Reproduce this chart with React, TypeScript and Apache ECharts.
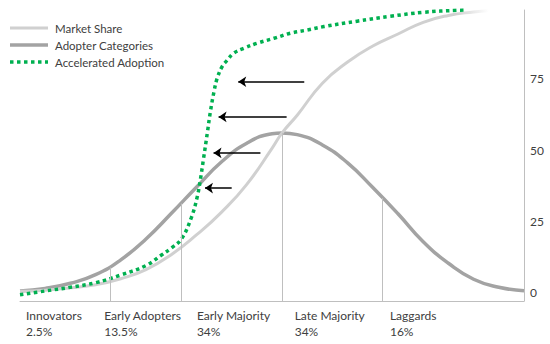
import React, { useEffect, useRef } from "react";
import * as echarts from "echarts";

// Adopter Categories (bell curve)
const bellX = [0, 5, 10, 15, 20, 25, 30, 35, 40, 45, 50, 52, 55, 60, 65, 70, 75, 80, 85, 90, 95, 100];
const bellY = [0.7, 1.6, 3.4, 6.4, 11.6, 18.9, 27.8, 37.0, 45.9, 52.4, 55.7, 56.0, 55.4, 51.8, 45.5, 36.9, 27.7, 17.9, 10.4, 4.8, 2.0, 0.8];

// Market Share (S-curve)
const marketX = [0, 5, 10, 15, 20, 25, 30, 35, 40, 45, 50, 52, 55, 60, 65, 70, 75, 80, 85, 90, 93];
const marketY = [0.6, 1.0, 1.8, 2.9, 5.0, 8.2, 13.4, 20.3, 28.3, 38.0, 50.6, 56.0, 62.2, 73.4, 80.8, 86.4, 90.6, 94.7, 97.1, 98.3, 98.7];

// Accelerated Adoption (dotted green)
const accelX = [0, 5, 10, 15, 20, 25, 28, 30, 32, 34, 35.2, 35.8, 36.4, 37.2, 37.8, 38.5, 39.1, 40.1, 41.1, 42.4, 44.4, 47.1, 50.4, 53.7, 57, 60.3, 66.9, 73.5, 80.1, 86.7, 88.7];
const accelY = [-0.6, 0.7, 2.0, 3.6, 6.3, 9.6, 13.2, 15.7, 18.8, 26.4, 33.9, 39.8, 46.8, 56.4, 63.7, 70.5, 75.0, 79.2, 81.4, 83.9, 85.6, 87.4, 89.1, 90.9, 92.0, 93.2, 95.1, 96.8, 98.2, 98.9, 99.0];

// Category boundaries (vertical lines up to the bell curve)
const dividerX = [17.9, 32.0, 52.0, 71.8];
const dividerTop = [8.9, 31.3, 56.0, 33.2];

// Arrows (pointing left)
const arrowFromX = [56.4, 52.9, 47.7, 42.0];
const arrowToX = [43.3, 39.4, 38.4, 36.7];
const arrowY = [73.9, 61.6, 49.0, 36.7];

// Category labels
const categoryNames = ["Innovators", "Early Adopters", "Early Majority", "Late Majority", "Laggards"];
const categoryShares = ["2.5%", "13.5%", "34%", "34%", "16%"];
const categoryLabelX = [1.2, 16.7, 35.1, 54.5, 73.4];

// Y axis ticks
const yTicks = [0, 25, 50, 75];

// Legend
const legendNames = ["Market Share", "Adopter Categories", "Accelerated Adoption"];

const Y_MIN = -2.8;
const Y_MAX = 99;
const FONT = "Lato, 'Open Sans', sans-serif";
const TEXT = "#404040";
const C_MARKET = "#d0d0d0";
const C_BELL = "#a3a3a3";
const C_GREEN = "#00b050";

const pairs = (xs: number[], ys: number[]) => xs.map((x, i) => [x, ys[i]]);

export default function App() {
  const ref = useRef<HTMLDivElement>(null);

  useEffect(() => {
    if (!ref.current) return;
    const chart = echarts.init(ref.current, null, { renderer: "svg" });

    const legendStyles = [
      { stroke: C_MARKET, lineWidth: 3 },
      { stroke: C_BELL, lineWidth: 3.5 },
      { stroke: C_GREEN, lineWidth: 3.5, lineDash: [3.5, 3.5] },
    ];
    const legendGraphics: any[] = [];
    legendNames.forEach((name, i) => {
      const y = 28 + i * 17;
      legendGraphics.push({
        type: "line",
        shape: { x1: 10, y1: y, x2: 48, y2: y },
        style: legendStyles[i],
        silent: true,
      });
      legendGraphics.push({
        type: "text",
        x: 55,
        y,
        style: {
          text: name,
          fill: TEXT,
          font: `11.5px ${FONT}`,
          verticalAlign: "middle",
          align: "left",
        },
        silent: true,
      });
    });

    const option: any = {
      animation: false,
      backgroundColor: "#ffffff",
      textStyle: { fontFamily: FONT },
      grid: { left: 20, right: 26, top: 10, bottom: 43 },
      graphic: legendGraphics,
      xAxis: {
        type: "value",
        min: 0,
        max: 100,
        axisLine: { show: true, onZero: false, lineStyle: { color: "#bfbfbf", width: 1 } },
        axisTick: { show: false },
        splitLine: { show: false },
        axisLabel: {
          customValues: categoryLabelX,
          align: "left",
          margin: 6,
          color: TEXT,
          fontSize: 12,
          lineHeight: 16,
          fontFamily: FONT,
          formatter: (v: number) => {
            let k = 0;
            let best = Infinity;
            categoryLabelX.forEach((c, j) => {
              const d = Math.abs(c - v);
              if (d < best) {
                best = d;
                k = j;
              }
            });
            return `${categoryNames[k]}\n${categoryShares[k]}`;
          },
        },
      },
      yAxis: {
        type: "value",
        position: "right",
        min: Y_MIN,
        max: Y_MAX,
        axisLine: { show: true, onZero: false, lineStyle: { color: "#bfbfbf", width: 1 } },
        axisTick: { show: false },
        splitLine: { show: false },
        axisLabel: {
          customValues: yTicks,
          margin: 6,
          color: TEXT,
          fontSize: 12,
          fontFamily: FONT,
        },
      },
      series: [
        {
          name: "Adopter Categories",
          type: "line",
          data: pairs(bellX, bellY),
          smooth: 0.5,
          symbol: "none",
          lineStyle: { color: C_BELL, width: 3.5 },
          itemStyle: { color: C_BELL },
          z: 2,
          markLine: {
            silent: true,
            symbol: ["none", "none"],
            label: { show: false },
            lineStyle: { color: "#bfbfbf", width: 1, type: "solid" },
            data: dividerX.map((x, i) => [
              { coord: [x, Y_MIN] },
              { coord: [x, dividerTop[i]] },
            ]),
          },
        },
        {
          name: "Market Share",
          type: "line",
          data: pairs(marketX, marketY),
          smooth: 0.5,
          symbol: "none",
          lineStyle: {
            width: 3,
            color: new echarts.graphic.LinearGradient(0, 0, 1, 0, [
              { offset: 0, color: C_MARKET },
              { offset: 0.93, color: C_MARKET },
              { offset: 1, color: "#ffffff" },
            ]),
          },
          itemStyle: { color: C_MARKET },
          z: 3,
        },
        {
          name: "Accelerated Adoption",
          type: "line",
          data: pairs(accelX, accelY),
          smooth: 0.4,
          symbol: "none",
          lineStyle: { color: C_GREEN, width: 3.5, type: "dotted" },
          itemStyle: { color: C_GREEN },
          z: 4,
          markLine: {
            silent: true,
            symbol: ["none", "arrow"],
            symbolSize: 8,
            label: { show: false },
            lineStyle: { color: "#000000", width: 1.5, type: "solid" },
            itemStyle: { color: "#000000" },
            data: arrowY.map((y, i) => [
              { coord: [arrowFromX[i], y], symbol: "none" },
              { coord: [arrowToX[i], y], symbol: "arrow", symbolSize: 8 },
            ]),
          },
        },
      ],
    };

    chart.setOption(option);
    return () => chart.dispose();
  }, []);

  return (
    <div
      ref={ref}
      style={{ position: "fixed", left: 0, top: 0, width: 550, height: 344, background: "#fff" }}
    />
  );
}
